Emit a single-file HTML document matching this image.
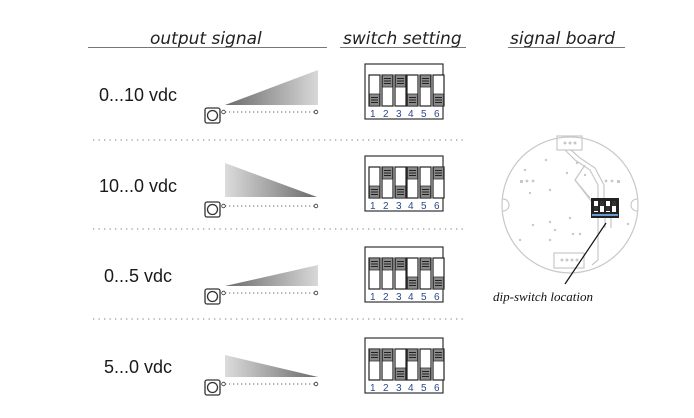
<!DOCTYPE html>
<html><head><meta charset="utf-8"><style>
html,body{margin:0;padding:0;background:#fff;}
svg{display:block}
.h{font-family:"DejaVu Sans","Liberation Sans",sans-serif;font-style:italic;font-size:17px;fill:#222}
.l{font-family:"Liberation Sans",sans-serif;font-size:18px;fill:#1a1a1a}
.n{font-family:"Liberation Sans",sans-serif;font-size:10px;fill:#2a4a8a}
</style></head><body>
<svg width="694" height="418" viewBox="0 0 694 418" xmlns="http://www.w3.org/2000/svg">
<defs>
<linearGradient id="gu" x1="0" x2="1" y1="0" y2="0"><stop offset="0" stop-color="#6a6a6a"/><stop offset="1" stop-color="#d8d8d8"/></linearGradient>
<linearGradient id="gd" x1="0" x2="1" y1="0" y2="0"><stop offset="0" stop-color="#dcdcdc"/><stop offset="1" stop-color="#6a6a6a"/></linearGradient>
<g id="knob"><rect x="0.5" y="0" width="10" height="12" fill="#8a8a8a" stroke="#333" stroke-width="0.8"/><path d="M2 3.5h7M2 6h7M2 8.5h7" stroke="#222" stroke-width="1"/></g>
<g id="U"><rect x="0" y="0" width="11" height="31" fill="#fff" stroke="#222" stroke-width="1.2"/><use href="#knob" y="0"/></g>
<g id="D"><rect x="0" y="0" width="11" height="31" fill="#fff" stroke="#222" stroke-width="1.2"/><use href="#knob" y="19"/></g>
<g id="box"><rect x="365" y="0" width="78" height="55" fill="#fff" stroke="#333" stroke-width="1.2"/>
<text class="n" x="370" y="53">1</text><text class="n" x="383" y="53">2</text><text class="n" x="396" y="53">3</text><text class="n" x="408" y="53">4</text><text class="n" x="421" y="53">5</text><text class="n" x="434" y="53">6</text></g>
<g id="sig"><rect x="205" y="0" width="15" height="15" rx="2" fill="#fff" stroke="#333" stroke-width="1.3"/><circle cx="212.5" cy="7.5" r="5" fill="#fff" stroke="#333" stroke-width="1.3"/>
<line x1="225" y1="4" x2="314" y2="4" stroke="#888" stroke-width="1.3" stroke-dasharray="1.3 2.7"/><circle cx="223.5" cy="4" r="1.8" fill="#fff" stroke="#333" stroke-width="0.8"/><circle cx="316" cy="4" r="1.8" fill="#fff" stroke="#333" stroke-width="0.8"/></g>
</defs>

<!-- headers -->
<text class="h" x="150" y="44">output signal</text>
<text class="h" x="343" y="44">switch setting</text>
<text class="h" x="510" y="44">signal board</text>
<line x1="88" y1="47.5" x2="327" y2="47.5" stroke="#777" stroke-width="1"/>
<line x1="340" y1="47.5" x2="466" y2="47.5" stroke="#777" stroke-width="1"/>
<line x1="508" y1="47.5" x2="625" y2="47.5" stroke="#777" stroke-width="1"/>

<!-- separators -->
<g stroke="#999" stroke-width="1.3" stroke-dasharray="1.3 4.2">
<line x1="93" y1="140" x2="466" y2="140"/><line x1="93" y1="229" x2="466" y2="229"/><line x1="93" y1="319" x2="466" y2="319"/>
</g>

<!-- row 1 -->
<text class="l" x="99" y="101">0...10 vdc</text>
<polygon points="225,105 318,70 318,105" fill="url(#gu)"/>
<use href="#sig" y="108"/>
<g transform="translate(0,64)"><use href="#box"/>
<use href="#D" x="369" y="11"/><use href="#U" x="382" y="11"/><use href="#U" x="395" y="11"/><use href="#D" x="407" y="11"/><use href="#U" x="420" y="11"/><use href="#D" x="433" y="11"/></g>

<!-- row 2 -->
<text class="l" x="99" y="192">10...0 vdc</text>
<polygon points="225,163 225,197 317,197" fill="url(#gd)"/>
<use href="#sig" y="202"/>
<g transform="translate(0,156)"><use href="#box"/>
<use href="#D" x="369" y="11"/><use href="#U" x="382" y="11"/><use href="#D" x="395" y="11"/><use href="#U" x="407" y="11"/><use href="#D" x="420" y="11"/><use href="#U" x="433" y="11"/></g>

<!-- row 3 -->
<text class="l" x="104" y="282">0...5 vdc</text>
<polygon points="225,286 318,265 318,286" fill="url(#gu)"/>
<use href="#sig" y="289"/>
<g transform="translate(0,247)"><use href="#box"/>
<use href="#U" x="369" y="11"/><use href="#U" x="382" y="11"/><use href="#U" x="395" y="11"/><use href="#D" x="407" y="11"/><use href="#U" x="420" y="11"/><use href="#D" x="433" y="11"/></g>

<!-- row 4 -->
<text class="l" x="104" y="373">5...0 vdc</text>
<polygon points="225,355 225,377 318,377" fill="url(#gd)"/>
<use href="#sig" y="380"/>
<g transform="translate(0,338)"><use href="#box"/>
<use href="#U" x="369" y="11"/><use href="#U" x="382" y="11"/><use href="#D" x="395" y="11"/><use href="#U" x="407" y="11"/><use href="#D" x="420" y="11"/><use href="#U" x="433" y="11"/></g>

<!-- board -->
<g fill="none" stroke="#c8c8c8" stroke-width="1.2">
<circle cx="570" cy="205" r="68"/>
<path d="M503 199 a6 6 0 0 1 0 12" fill="#fff"/>
<path d="M637 199 a6 6 0 0 0 0 12" fill="#fff"/>
<rect x="557" y="136" width="25" height="14"/>
<rect x="554" y="253" width="30" height="15"/>
<path d="M565 150 L575 160 L590 170 L598 185 L598 198"/>
<path d="M571 150 L580 158 L595 168 L604 185 L604 198"/>
<path d="M585 165 L575 180 L590 198"/>
<path d="M575 180 L598 210 L598 260 L592 265"/>
<path d="M605 218 L605 228 M611 218 L611 228"/>
</g>
<g fill="#c8c8c8">
<circle cx="565" cy="143" r="1.5"/><circle cx="570" cy="143" r="1.5"/><circle cx="575" cy="143" r="1.5"/>
<circle cx="562" cy="260" r="1.5"/><circle cx="567" cy="260" r="1.5"/><circle cx="572" cy="260" r="1.5"/><circle cx="577" cy="260" r="1.5"/>
<rect x="520" y="180" width="3" height="3"/><circle cx="527" cy="181" r="1.4"/><circle cx="533" cy="181" r="1.4"/>
<circle cx="606" cy="181" r="1.4"/><circle cx="612" cy="181" r="1.4"/><rect x="617" y="180" width="3" height="3"/>
<circle cx="546" cy="160" r="1.2"/><circle cx="525" cy="170" r="1.2"/><circle cx="530" cy="193" r="1.2"/><circle cx="550" cy="190" r="1.2"/>
<circle cx="567" cy="173" r="1.2"/><circle cx="577" cy="163" r="1.2"/><circle cx="585" cy="175" r="1.2"/>
<circle cx="550" cy="222" r="1.2"/><circle cx="533" cy="225" r="1.2"/><circle cx="555" cy="230" r="1.2"/><circle cx="570" cy="218" r="1.2"/>
<circle cx="573" cy="234" r="1.2"/><circle cx="580" cy="234" r="1.2"/><circle cx="520" cy="240" r="1.2"/><circle cx="550" cy="240" r="1.2"/><circle cx="628" cy="224" r="1.2"/>
</g>
<rect x="591" y="198" width="28" height="20" fill="#222"/>
<g fill="#fff"><rect x="594" y="201" width="4" height="11"/><rect x="600" y="201" width="4" height="11"/><rect x="606" y="201" width="4" height="11"/><rect x="612" y="201" width="4" height="11"/></g>
<g fill="#333"><rect x="594" y="206" width="4" height="5"/><rect x="600" y="201" width="4" height="5"/><rect x="606" y="206" width="4" height="5"/><rect x="612" y="201" width="4" height="5"/></g>
<rect x="592" y="214" width="26" height="2" fill="#6a9ad0"/>
<line x1="606" y1="223" x2="565" y2="284" stroke="#111" stroke-width="1.2"/>
<text x="493" y="301" font-family="Liberation Serif,serif" font-style="italic" font-size="13" fill="#111">dip-switch location</text>
</svg>
</body></html>
